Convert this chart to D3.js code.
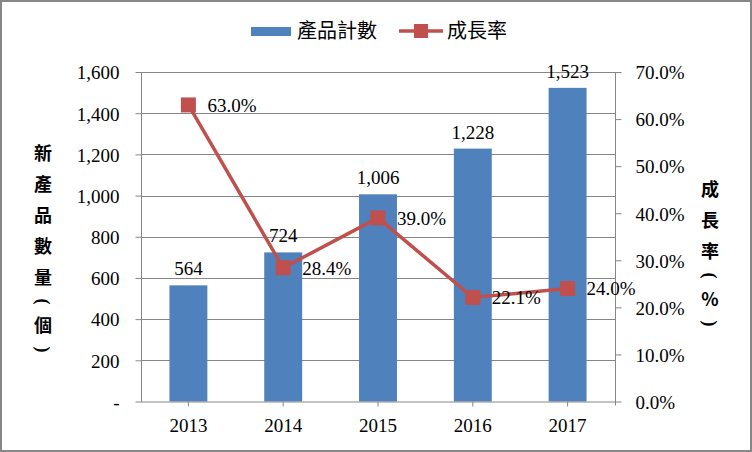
<!DOCTYPE html>
<html><head><meta charset="utf-8">
<script src="https://cdn.jsdelivr.net/npm/d3@7"></script>
<style>
html,body{margin:0;padding:0;background:#fff;}
svg{display:block;}
</style></head>
<body>
<svg id="chart" width="752" height="452"></svg>
<script>
const years = ["2013","2014","2015","2016","2017"];
const productCounts = [564, 724, 1006, 1228, 1523];
const growthRates = [0.630, 0.284, 0.390, 0.221, 0.240];
const leftTicks = [0,200,400,600,800,1000,1200,1400,1600];
const rightTicks = [0,0.1,0.2,0.3,0.4,0.5,0.6,0.7];
const seriesNames = ["產品計數","成長率"];
const leftTitle = ["新","產","品","數","量","（","個","）"];
const rightTitle = ["成","長","率","（","%","）"];

const svg = d3.select("#chart");
const W=752,H=452;
const serif = "'Liberation Serif','Times New Roman',serif";
const cjk = "'Noto Sans CJK TC','Noto Sans CJK SC',sans-serif";
const blue="#4F81BD", red="#C0504D", grid="#868686";

svg.append("rect").attr("x",1).attr("y",1).attr("width",W-2).attr("height",H-2)
  .attr("fill","#fff").attr("stroke","#878787").attr("stroke-width",2);

const L=141, R=615, T=72, B=401.5;
const x = d3.scaleBand().domain(years).range([L,R]).paddingInner(0.6).paddingOuter(0.3);
const y = d3.scaleLinear().domain([0,1600]).range([B,T]);
const y2 = d3.scaleLinear().domain([0,0.7]).range([B,T]);

// gridlines
svg.append("g").selectAll("line").data(leftTicks.slice(1)).join("line")
  .attr("x1",L).attr("x2",R).attr("y1",d=>Math.round(y(d))+0.5).attr("y2",d=>Math.round(y(d))+0.5)
  .attr("stroke",grid).attr("stroke-width",1);

// bars
svg.append("g").selectAll("rect").data(productCounts).join("rect")
  .attr("x",(d,i)=>x(years[i])).attr("width",x.bandwidth())
  .attr("y",d=>y(d)).attr("height",d=>B-y(d)).attr("fill",blue);

// left axis
const gl = svg.append("g").attr("transform",`translate(${L+0.5},0)`)
  .call(d3.axisLeft(y).tickValues(leftTicks).tickSize(6).tickPadding(16)
    .tickFormat(d=>d===0?"-":d3.format(",")(d)));
gl.select(".domain").remove();
gl.append("line").attr("y1",T).attr("y2",B).attr("stroke",grid);
gl.selectAll(".tick line").attr("stroke",grid);
gl.selectAll(".tick text").attr("font-family",serif).attr("font-size",19).attr("fill","#000").attr("dy","0.36em");

// right axis
const gr = svg.append("g").attr("transform",`translate(${R+0.5},0)`)
  .call(d3.axisRight(y2).tickValues(rightTicks).tickSize(6).tickPadding(14)
    .tickFormat(d3.format(".1%")));
gr.select(".domain").remove();
gr.append("line").attr("y1",T).attr("y2",B+4).attr("stroke",grid);
gr.selectAll(".tick line").attr("stroke",grid);
gr.selectAll(".tick text").attr("font-family",serif).attr("font-size",19).attr("fill","#000").attr("dy","0.36em");

// bottom axis
const gb = svg.append("g").attr("transform",`translate(0,${B})`)
  .call(d3.axisBottom(x).tickSize(5).tickPadding(12));
gb.select(".domain").remove();
gb.append("line").attr("x1",L).attr("x2",R).attr("y1",0.5).attr("y2",0.5).attr("stroke",grid);
gb.selectAll(".tick line").attr("stroke",grid);
gb.selectAll(".tick text").attr("font-family",serif).attr("font-size",19).attr("fill","#000");

// bar labels
svg.append("g").selectAll("text").data(productCounts).join("text")
  .attr("x",(d,i)=>x(years[i])+x.bandwidth()/2).attr("y",d=>y(d)-10)
  .attr("text-anchor","middle").attr("font-family",serif).attr("font-size",19)
  .text(d=>d3.format(",")(d));

// line
const cx = i=>x(years[i])+x.bandwidth()/2;
const line = d3.line().x((d,i)=>cx(i)).y(d=>y2(d));
svg.append("path").datum(growthRates).attr("d",line).attr("fill","none")
  .attr("stroke",red).attr("stroke-width",3.5).attr("stroke-linejoin","round");
svg.append("g").selectAll("rect").data(growthRates).join("rect")
  .attr("x",(d,i)=>cx(i)-7.5).attr("y",d=>y2(d)-7.5).attr("width",15).attr("height",15)
  .attr("fill",red);
svg.append("g").selectAll("text").data(growthRates).join("text")
  .attr("x",(d,i)=>cx(i)+19).attr("y",d=>y2(d)).attr("dy","0.36em")
  .attr("font-family",serif).attr("font-size",19).text(d=>d3.format(".1%")(d));

// legend
const lg = svg.append("g");
lg.append("rect").attr("x",251).attr("y",27).attr("width",40).attr("height",9).attr("fill",blue);
lg.append("text").attr("x",297).attr("y",31).attr("dy","0.36em").attr("font-family",cjk)
  .attr("font-size",20).attr("fill","#000").text(seriesNames[0]);
lg.append("line").attr("x1",399).attr("x2",443).attr("y1",31).attr("y2",31).attr("stroke",red).attr("stroke-width",3.5);
lg.append("rect").attr("x",414).attr("y",24).attr("width",14).attr("height",14).attr("fill",red);
lg.append("text").attr("x",447).attr("y",31).attr("dy","0.36em").attr("font-family",cjk)
  .attr("font-size",20).attr("fill","#000").text(seriesNames[1]);

// axis titles (vertical stacked characters)
function stack(chars, cxp, y0){
  let yy=y0;
  const g=svg.append("g");
  chars.forEach(c=>{
    const paren = (c==="（"||c==="）");
    const h = paren?17:31;
    const cy = yy+h/2;
    const t = g.append("text").attr("x",cxp).attr("y",cy).attr("dy","0.36em")
      .attr("text-anchor","middle").attr("font-family",cjk).attr("font-weight","bold")
      .attr("font-size",18).attr("fill","#000").text(c);
    if(paren){
      t.attr("font-family",serif).attr("x",0).attr("y",0)
       .attr("transform",`translate(${cxp},${cy}) rotate(90)`).text(c==="（"?"(":")");
    }
    yy+=h;
  });
}
stack(leftTitle, 43, 138);
stack(rightTitle, 710, 174);
</script>
</body></html>
